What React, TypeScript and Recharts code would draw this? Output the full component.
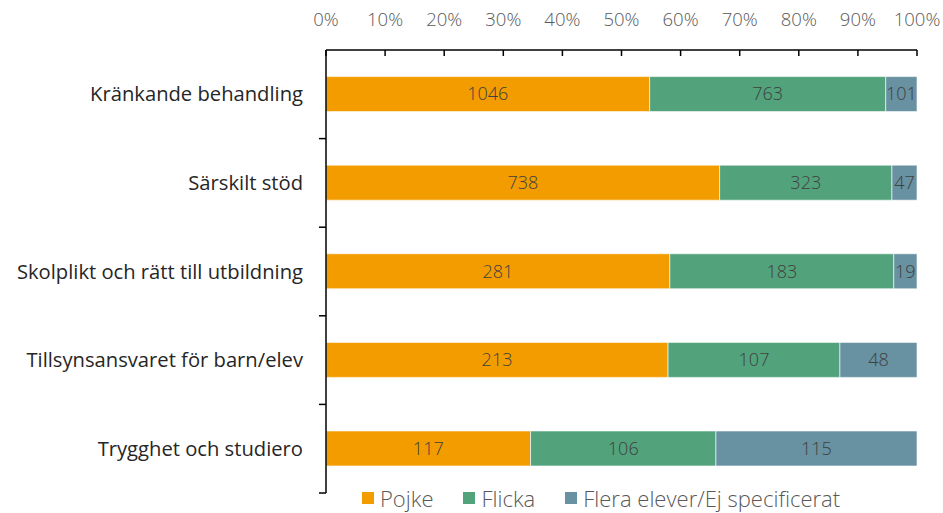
import React from 'react';
import { BarChart, Bar, XAxis, YAxis, Legend, LabelList } from 'recharts';

const categories = [
  'Kränkande behandling',
  'Särskilt stöd',
  'Skolplikt och rätt till utbildning',
  'Tillsynsansvaret för barn/elev',
  'Trygghet och studiero',
];
const pojke = [1046, 738, 281, 213, 117];
const flicka = [763, 323, 183, 107, 106];
const flera = [101, 47, 19, 48, 115];
const xTicks = [0, 0.1, 0.2, 0.3, 0.4, 0.5, 0.6, 0.7, 0.8, 0.9, 1];
const seriesNames = ['Pojke', 'Flicka', 'Flera elever/Ej specificerat'];
const seriesKeys = ['pojke', 'flicka', 'flera'];
const colors = ['#F39C00', '#52A37C', '#6891A1'];

const data = categories.map((c, i) => ({ name: c, pojke: pojke[i], flicka: flicka[i], flera: flera[i] }));

const W = 943;
const H = 513;
const M = { top: 0, right: 26, bottom: 20, left: 0 };
const X_AXIS_H = 50;
const Y_AXIS_W = 326;
const BAND = (H - M.top - M.bottom - X_AXIS_H) / categories.length;
const FONT = "'Open Sans', 'Noto Sans', sans-serif";

const XTick = (props: any) => {
  const { x, y, payload } = props;
  return (
    <g>
      <text x={x} y={y} textAnchor="middle" fill="#595959" fontSize={18.5} fontFamily={FONT} fontWeight={300}>
        {Math.round(payload.value * 100)}%
      </text>
      <line x1={x} x2={x} y1={y + 24} y2={y + 30} stroke="#000" strokeWidth={1.5} />
    </g>
  );
};

const YTick = (props: any) => {
  const { x, y, payload } = props;
  return (
    <g>
      <text x={x} y={y} dy="0.35em" textAnchor="end" fill="#262626" fontSize={20.2} fontFamily={FONT}>
        {payload.value}
      </text>
      <line x1={x + 16} x2={x + 23} y1={y + BAND / 2} y2={y + BAND / 2} stroke="#000" strokeWidth={1.5} />
    </g>
  );
};

const LegendContent = () => {
  return (
    <div style={{ display: 'flex', alignItems: 'center', fontFamily: FONT, fontSize: 22, lineHeight: '22px', height: 22, color: '#595959', fontWeight: 300, whiteSpace: 'nowrap' }}>
      {seriesNames.map((n, i) => (
        <div key={n} style={{ display: 'flex', alignItems: 'center', marginRight: 30 }}>
          <span style={{ display: 'inline-block', width: 12, height: 12, background: colors[i], marginRight: 6 }} />
          <span>{n}</span>
        </div>
      ))}
    </div>
  );
};

export default function App() {
  return (
    <div style={{ position: 'absolute', left: 0, top: 0, width: W, height: H, background: '#fff' }}>
      <BarChart
        width={W}
        height={H}
        data={data}
        layout="vertical"
        stackOffset="expand"
        margin={M}
        barCategoryGap="30%"
        style={{ fontFamily: FONT }}
      >
        <XAxis
          type="number"
          orientation="top"
          domain={[0, 1]}
          ticks={xTicks}
          height={X_AXIS_H}
          tick={<XTick />}
          tickLine={false}
          tickSize={0}
          tickMargin={24}
          axisLine={{ stroke: '#000', strokeWidth: 1.5 }}
          allowDataOverflow
        />
        <YAxis
          type="category"
          dataKey="name"
          width={Y_AXIS_W}
          tick={<YTick />}
          tickLine={false}
          tickSize={0}
          tickMargin={23}
          axisLine={{ stroke: '#000', strokeWidth: 1.5 }}
          interval={0}
        />
        <Legend
          verticalAlign="middle"
          align="center"
          layout="horizontal"
          wrapperStyle={{ top: 487, left: 362, width: 580, height: 22 }}
          content={<LegendContent />}
        />
        {seriesKeys.map((k, i) => (
          <Bar key={k} dataKey={k} name={seriesNames[i]} stackId="a" fill={colors[i]} stroke="#ffffff" strokeWidth={0.6} isAnimationActive={false}>
            <LabelList dataKey={k} position="center" fill="#404040" fontSize={18} fontFamily={FONT} fontWeight={300} />
          </Bar>
        ))}
      </BarChart>
    </div>
  );
}
